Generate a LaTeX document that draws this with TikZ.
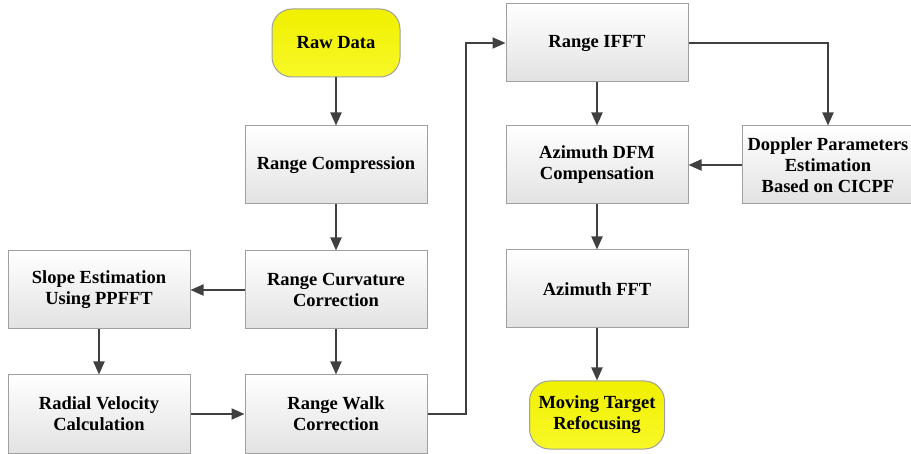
\documentclass[tikz,border=0pt]{standalone}
\usepackage{fontspec}
\setmainfont{Liberation Serif}
\usetikzlibrary{arrows.meta,positioning,calc}

\definecolor{boxline}{RGB}{160,160,160}
\definecolor{boxlow}{RGB}{226,226,226}
\definecolor{termtop}{RGB}{240,240,0}
\definecolor{termlow}{RGB}{248,248,40}
\definecolor{arrowgray}{RGB}{64,64,64}

\begin{document}
\begin{tikzpicture}[
  x=1pt,y=1pt,
  node distance=46pt and 54pt,
  box/.style={draw=boxline,line width=1pt,top color=white,bottom color=boxlow,rectangle,align=center,
    minimum width=182pt,minimum height=78pt,inner sep=9pt,
    font=\fontsize{18.5}{21}\selectfont\bfseries},
  term/.style={draw=boxline,line width=1pt,top color=termtop,bottom color=termlow,rounded corners=20pt,
    align=center,minimum width=128pt,minimum height=68pt,inner sep=9pt,
    font=\fontsize{18.5}{21}\selectfont\bfseries},
  arrow/.style={-{Triangle[length=13pt,width=11pt]},draw=arrowgray,line width=2pt}
]
  \useasboundingbox (0,0) rectangle (911,-454);
  \node[term] (raw) at (336,-43) {Raw Data};
  \node[box,below=48pt of raw] (comp) {Range Compression};
  \node[box,below=of comp] (curv) {Range Curvature\\Correction};
  \node[box,below=45pt of curv] (walk) {Range Walk\\Correction};
  \node[box,left=of curv] (slope) {Slope Estimation\\Using PPFFT};
  \node[box,below=45pt of slope] (radial) {Radial Velocity\\Calculation};
  \node[box,anchor=west] (ifft) at ([xshift=78pt]comp.east |- raw) {Range IFFT};
  \node[box,below=43pt of ifft] (dfm) {Azimuth DFM\\Compensation};
  \node[box,below=45pt of dfm] (fft) {Azimuth FFT};
  \node[term,below=52pt of fft] (target) {Moving Target\\Refocusing};
  \node[box,right=53pt of dfm,minimum width=172pt,inner sep=4pt] (doppler) {Doppler Parameters\\Estimation\\Based on CICPF};
  \draw[arrow] (raw) -- (comp);
  \draw[arrow] (comp) -- (curv);
  \draw[arrow] (curv) -- (walk);
  \draw[arrow] (curv) -- (slope);
  \draw[arrow] (slope) -- (radial);
  \draw[arrow] (radial) -- (walk);
  \draw[arrow] (walk.east) -- ++(38pt,0) |- (ifft.west);
  \draw[arrow] (ifft.east) -| (doppler.north);
  \draw[arrow] (ifft) -- (dfm);
  \draw[arrow] (doppler) -- (dfm);
  \draw[arrow] (dfm) -- (fft);
  \draw[arrow] (fft) -- (target);
\end{tikzpicture}
\end{document}
